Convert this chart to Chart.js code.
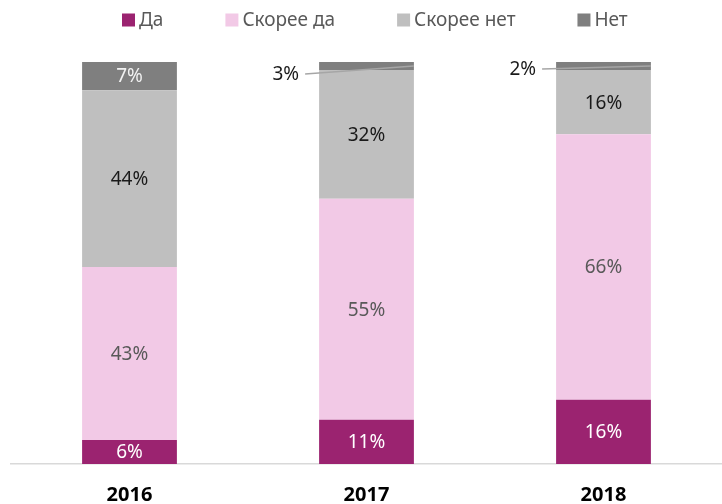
<!DOCTYPE html>
<html>
<head>
<meta charset="utf-8">
<script src="https://cdn.jsdelivr.net/npm/chart.js@4"></script>
<style>
  html, body { margin: 0; padding: 0; background: #fff; }
  #wrap { width: 722px; height: 504px; position: relative; }
</style>
</head>
<body>
<div id="wrap"><canvas id="chart"></canvas></div>
<script>
// данные
const years = ['2016', '2017', '2018'];
const seriesNames = ['Да', 'Скорее да', 'Скорее нет', 'Нет'];
const da = [6, 11, 16];
const skoreeDa = [43, 55, 66];
const skoreeNet = [44, 32, 16];
const net = [7, 3, 2];

const colors = ['#9B2370', '#F2C9E6', '#BFBFBF', '#7F7F7F'];
const labelColors = ['#FFFFFF', '#595959', '#1A1A1A', '#F2F2F2'];
const FONT = '"Noto Sans", "Open Sans", sans-serif';

// подписи внутри сегментов (и снаружи для маленьких)
const segmentLabels = {
  id: 'segmentLabels',
  afterDatasetsDraw(chart, args, opts) {
    const ctx = chart.ctx;
    ctx.save();
    ctx.font = '19px ' + FONT;
    ctx.textBaseline = 'middle';
    chart.data.datasets.forEach((ds, di) => {
      const meta = chart.getDatasetMeta(di);
      meta.data.forEach((bar, i) => {
        const v = ds.data[i];
        const top = Math.max(bar.y, chart.chartArea.top);
        const h = bar.base - top;
        const cy = top + h / 2;
        const text = v + '%';
        if (h >= 16) {
          ctx.fillStyle = labelColors[di];
          ctx.textAlign = 'center';
          ctx.fillText(text, bar.x, cy + 1);
        } else {
          const left = bar.x - bar.width / 2;
          const right = bar.x + bar.width / 2;
          const ly = cy + (opts.outsideOffset[i] || 4);
          ctx.strokeStyle = '#A6A6A6';
          ctx.lineWidth = 1.5;
          ctx.beginPath();
          ctx.moveTo(left - 14, ly);
          ctx.lineTo(right, cy);
          ctx.stroke();
          ctx.fillStyle = '#1A1A1A';
          ctx.textAlign = 'right';
          ctx.fillText(text, left - 20, ly + 1);
        }
      });
    });
    ctx.restore();
  }
};

// легенда сверху
const topLegend = {
  id: 'topLegend',
  afterDraw(chart) {
    const ctx = chart.ctx;
    ctx.save();
    ctx.font = '19px ' + FONT;
    ctx.textBaseline = 'middle';
    ctx.textAlign = 'left';
    let x = 122;
    const y = 20;
    seriesNames.forEach((name, i) => {
      ctx.fillStyle = colors[i];
      ctx.fillRect(x, y - 6.5, 13, 13);
      ctx.fillStyle = '#595959';
      ctx.fillText(name, x + 17, y + 1);
      x += 17 + ctx.measureText(name).width + 62;
    });
    ctx.restore();
  }
};

const values = [da, skoreeDa, skoreeNet, net];

new Chart(document.getElementById('chart'), {
  type: 'bar',
  data: {
    labels: years,
    datasets: values.map((d, i) => ({
      label: seriesNames[i],
      data: d,
      backgroundColor: colors[i],
      borderWidth: 0,
      barPercentage: 1,
      categoryPercentage: 0.4
    }))
  },
  options: {
    responsive: true,
    maintainAspectRatio: false,
    animation: false,
    layout: { padding: { top: 62, left: 11, right: 0, bottom: 0 } },
    plugins: {
      legend: { display: false },
      tooltip: { enabled: false },
      segmentLabels: { outsideOffset: [4, 8, 3] }
    },
    scales: {
      x: {
        stacked: true,
        grid: { display: false, drawTicks: false },
        border: { display: true, color: '#D9D9D9', width: 1.5 },
        ticks: {
          color: '#000',
          padding: 19,
          font: { family: FONT, size: 20, weight: 'bold' }
        },
        afterFit(scale) { scale.height = 40; }
      },
      y: {
        stacked: true,
        display: false,
        min: 0,
        max: 100
      }
    }
  },
  plugins: [segmentLabels, topLegend]
});
</script>
</body>
</html>
